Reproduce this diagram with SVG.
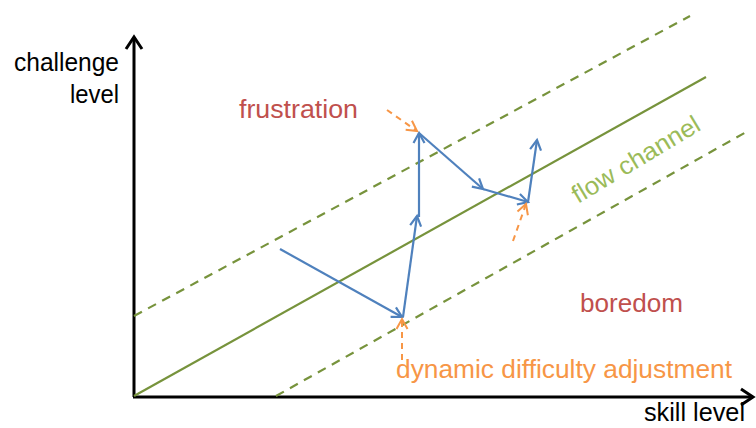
<svg xmlns="http://www.w3.org/2000/svg" width="756" height="428" viewBox="0 0 756 428">
<defs>
<style>
text{font-family:"Liberation Sans",Arial,sans-serif;font-size:25px}
.ax{stroke:#000;stroke-width:3;fill:none}
.flow{stroke:#77933C;stroke-width:2.2;fill:none}
.dash{stroke:#77933C;stroke-width:2.2;fill:none;stroke-dasharray:9 7}
.blue{stroke:#4F81BD;stroke-width:2.2;fill:none}
.orange{stroke:#F79646;stroke-width:2;fill:none;stroke-dasharray:6 5}
.red{fill:#C0504D}
</style>
<marker id="ab" markerWidth="14" markerHeight="14" refX="11" refY="7" orient="auto" markerUnits="userSpaceOnUse"><path d="M1,1.5 L11,7 L1,12.5" fill="none" stroke="#4F81BD" stroke-width="2.2"/></marker>
<marker id="ao" markerWidth="14" markerHeight="14" refX="11" refY="7" orient="auto" markerUnits="userSpaceOnUse"><path d="M1,1.5 L11,7 L1,12.5" fill="none" stroke="#F79646" stroke-width="2"/></marker>
<marker id="ak" markerWidth="18" markerHeight="20" refX="14" refY="10" orient="auto" markerUnits="userSpaceOnUse"><path d="M2,2 L14,10 L2,18" fill="none" stroke="#000" stroke-width="3"/></marker>
</defs>
<rect width="756" height="428" fill="#fff"/>
<g id="axes">
<line class="ax" x1="134" y1="397" x2="134" y2="37" marker-end="url(#ak)"/>
<line class="ax" x1="133" y1="397" x2="753" y2="397" marker-end="url(#ak)"/>
</g>
<g id="channel">
<line class="flow" x1="134" y1="396" x2="706" y2="77"/>
<line class="dash" x1="134" y1="316" x2="690" y2="16"/>
<line class="dash" x1="276" y1="396" x2="748" y2="131"/>
</g>
<g id="connectors">
<line class="blue" x1="280" y1="249" x2="402" y2="317" marker-end="url(#ab)"/>
<line class="blue" x1="403" y1="317" x2="417" y2="216" marker-end="url(#ab)"/>
<line class="blue" x1="419" y1="217" x2="419" y2="133" marker-end="url(#ab)"/>
<line class="blue" x1="419" y1="133" x2="483" y2="189" marker-end="url(#ab)"/>
<line class="blue" x1="483" y1="189" x2="528" y2="202" marker-end="url(#ab)"/>
<line class="blue" x1="528" y1="202" x2="537" y2="140" marker-end="url(#ab)"/>
<line class="orange" x1="387" y1="110" x2="417" y2="131" marker-end="url(#ao)"/>
<line class="orange" x1="513" y1="241" x2="526" y2="204" marker-end="url(#ao)"/>
<line class="orange" x1="402" y1="360" x2="402" y2="319" marker-end="url(#ao)"/>
</g>
<g id="labels">
<text x="119" y="71" text-anchor="end" textLength="105" lengthAdjust="spacingAndGlyphs">challenge</text>
<text x="119" y="103" text-anchor="end" textLength="49" lengthAdjust="spacingAndGlyphs">level</text>
<text class="red" x="239" y="118" textLength="119" lengthAdjust="spacingAndGlyphs">frustration</text>
<text class="red" x="580" y="312" textLength="103" lengthAdjust="spacingAndGlyphs">boredom</text>
<text x="396" y="378" fill="#F79646" textLength="336" lengthAdjust="spacingAndGlyphs">dynamic difficulty adjustment</text>
<text x="644" y="421" textLength="101" lengthAdjust="spacingAndGlyphs">skill level</text>
<text x="578" y="204" fill="#9BBB59" transform="rotate(-31 578 204)" textLength="145" lengthAdjust="spacingAndGlyphs">flow channel</text>
</g>
</svg>
